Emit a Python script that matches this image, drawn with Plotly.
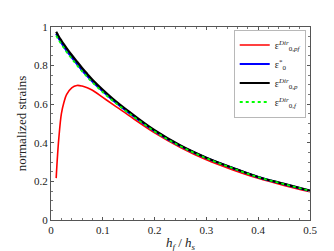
import plotly.graph_objects as go

x_vals = [0.01, 0.0125, 0.015, 0.02, 0.025, 0.03, 0.04, 0.05, 0.06, 0.07, 0.08, 0.10, 0.12, 0.15, 0.20, 0.25, 0.30, 0.35, 0.40, 0.45, 0.50]

eps_pf = [0.217, 0.33, 0.42, 0.55, 0.61, 0.65, 0.685, 0.697, 0.694, 0.685, 0.672, 0.635, 0.598, 0.542, 0.452, 0.376, 0.312, 0.261, 0.216, 0.179, 0.146]
eps_star = [0.965, 0.953, 0.941, 0.919, 0.898, 0.878, 0.843, 0.809, 0.776, 0.746, 0.718, 0.667, 0.620, 0.557, 0.461, 0.383, 0.321, 0.270, 0.222, 0.186, 0.151]
eps_p = [0.975, 0.963, 0.951, 0.930, 0.910, 0.891, 0.855, 0.821, 0.788, 0.757, 0.727, 0.675, 0.627, 0.563, 0.465, 0.386, 0.323, 0.271, 0.223, 0.187, 0.152]
eps_f = [0.955, 0.943, 0.932, 0.911, 0.891, 0.871, 0.836, 0.802, 0.770, 0.741, 0.713, 0.662, 0.616, 0.554, 0.459, 0.382, 0.320, 0.269, 0.222, 0.186, 0.151]

names = [
    "ε<sup><i>Dir</i></sup><sub>0,<i>pf</i></sub>",
    "ε<sup>*</sup><sub>0</sub>",
    "ε<sup><i>Dir</i></sup><sub>0,<i>p</i></sub>",
    "ε<sup><i>Dir</i></sup><sub>0,<i>f</i></sub>",
]

font_family = "Liberation Serif"

fig = go.Figure()
fig.add_trace(go.Scatter(x=x_vals, y=eps_pf, mode="lines", name=names[0],
                         line=dict(color="#ff0000", width=1.6, shape="spline")))
fig.add_trace(go.Scatter(x=x_vals, y=eps_star, mode="lines", name=names[1],
                         line=dict(color="#0000ff", width=2.2, shape="spline")))
fig.add_trace(go.Scatter(x=x_vals, y=eps_p, mode="lines", name=names[2],
                         line=dict(color="#000000", width=2.2, shape="spline")))
fig.add_trace(go.Scatter(x=x_vals, y=eps_f, mode="lines", name=names[3],
                         line=dict(color="#00ff00", width=1.8, dash="dot", shape="spline")))

axis_common = dict(
    showgrid=False, zeroline=False, showline=True, linecolor="#555555", linewidth=1,
    mirror="ticks", ticks="inside", ticklen=3, tickcolor="#555555",
    tickfont=dict(family=font_family, size=11, color="#222222"),
    minor=dict(ticks="inside", ticklen=2, tickcolor="#777777"),
)

fig.update_xaxes(range=[0, 0.5], tickvals=[0, 0.1, 0.2, 0.3, 0.4, 0.5],
                 ticktext=["0", "0.1", "0.2", "0.3", "0.4", "0.5"],
                 minor_dtick=0.02,
                 title=dict(text="<i>h</i><sub><i>f</i></sub> / <i>h</i><sub><i>s</i></sub>",
                            font=dict(family=font_family, size=13, color="#222222"), standoff=2),
                 **axis_common)
fig.update_yaxes(range=[0, 1], tickvals=[0, 0.2, 0.4, 0.6, 0.8, 1],
                 ticktext=["0", "0.2", "0.4", "0.6", "0.8", "1"],
                 minor_dtick=0.05,
                 title=dict(text="normalized strains",
                            font=dict(family=font_family, size=13, color="#222222"), standoff=4),
                 **axis_common)

fig.update_layout(
    width=334, height=251,
    margin=dict(l=43, r=32, t=19, b=35),
    paper_bgcolor="white", plot_bgcolor="white",
    showlegend=True,
    legend=dict(x=0.985, y=0.985, xanchor="right", yanchor="top",
                bordercolor="#888888", borderwidth=0.6, bgcolor="white",
                font=dict(family=font_family, size=10, color="#222222"),
                itemwidth=30, tracegroupgap=0),
)

fig.write_html("out.html")
